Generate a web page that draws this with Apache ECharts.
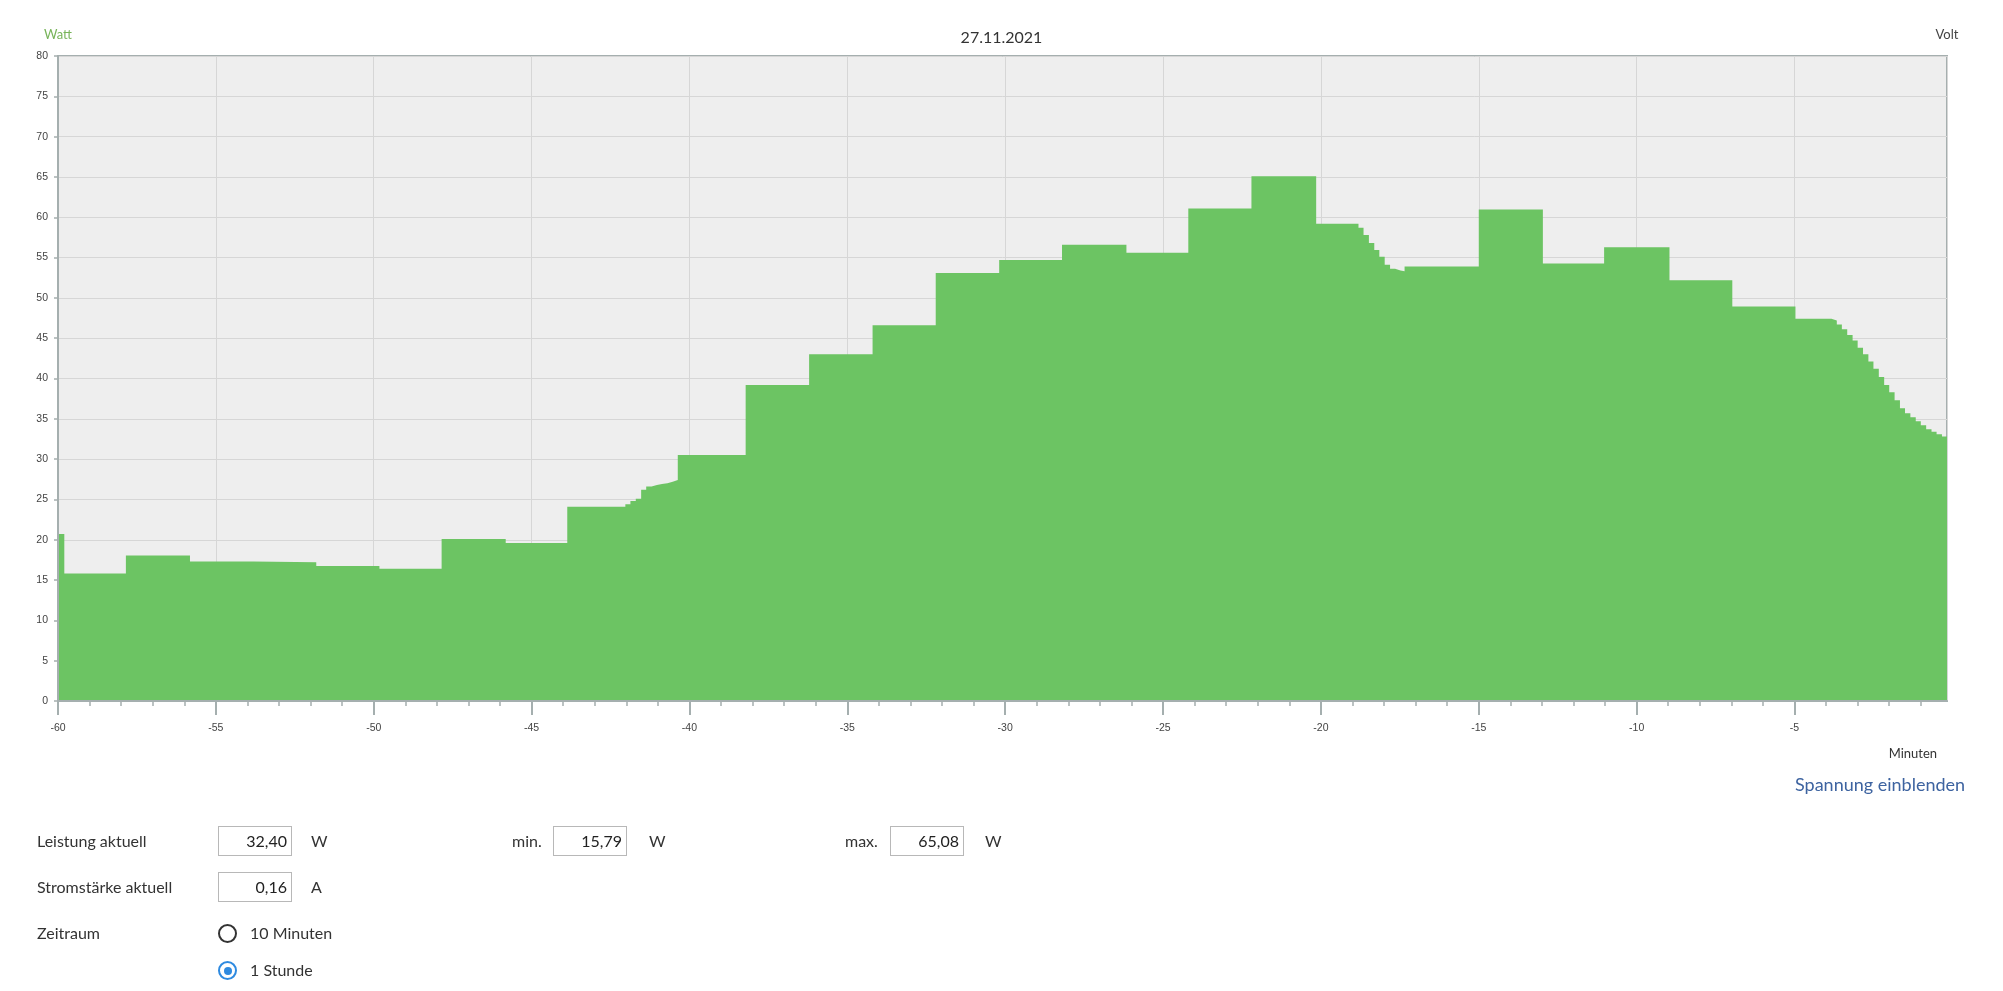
<!DOCTYPE html>
<html>
<head>
<meta charset="utf-8">
<script src="https://cdn.jsdelivr.net/npm/echarts@6/dist/echarts.min.js"></script>
<style>
html,body{margin:0;padding:0;background:#fff;overflow:hidden;width:2003px;height:991px;}
#chart{position:absolute;left:0;top:0;width:2003px;height:991px;}
.t{position:absolute;font-family:Lato,'Open Sans',sans-serif;font-size:16px;color:#333;line-height:20px;height:20px;white-space:nowrap;}
.box{position:absolute;border:1px solid #b8b8b8;background:#fff;box-sizing:border-box;width:74px;height:30px;font-family:Lato,'Open Sans',sans-serif;font-size:16px;color:#222;text-align:right;padding-right:4px;line-height:28px;}
.radio{position:absolute;width:19px;height:19px;border-radius:50%;box-sizing:border-box;}
.link{position:absolute;font-family:Lato,'Open Sans',sans-serif;font-size:18px;color:#3d63a0;white-space:nowrap;line-height:22px;}
</style>
</head>
<body>
<div id="chart"></div>

<div class="link" style="left:1795px;top:773px;">Spannung einblenden</div>

<div class="t" style="left:37px;top:831px;">Leistung aktuell</div>
<div class="box" style="left:218px;top:826px;">32,40</div>
<div class="t" style="left:311px;top:831px;">W</div>
<div class="t" style="left:512px;top:831px;">min.</div>
<div class="box" style="left:553px;top:826px;">15,79</div>
<div class="t" style="left:649px;top:831px;">W</div>
<div class="t" style="left:845px;top:831px;">max.</div>
<div class="box" style="left:890px;top:826px;">65,08</div>
<div class="t" style="left:985px;top:831px;">W</div>

<div class="t" style="left:37px;top:877px;">Stromstärke aktuell</div>
<div class="box" style="left:218px;top:872px;">0,16</div>
<div class="t" style="left:311px;top:877px;">A</div>

<div class="t" style="left:37px;top:923px;">Zeitraum</div>
<div class="radio" style="left:218px;top:924px;border:2px solid #333;"></div>
<div class="t" style="left:250px;top:923px;">10 Minuten</div>
<div class="radio" style="left:218px;top:961px;border:2px solid #2e8ae0;"><div style="position:absolute;left:3.5px;top:3.5px;width:8px;height:8px;border-radius:50%;background:#2e8ae0;"></div></div>
<div class="t" style="left:250px;top:960px;">1 Stunde</div>

<script>
// Segment start times (minutes) and power values (Watt); each value holds until the next time.
const minutes = [
  -60.00, -59.80, -57.85, -55.82, -53.82, -51.82, -49.82, -47.85, -45.82, -43.87,
  -42.03, -41.87, -41.70, -41.53, -41.37, -41.20, -41.03, -40.87, -40.70, -40.53,
  -40.37, -38.22, -36.21, -34.20, -32.20, -30.19, -28.20, -26.16, -24.20, -22.20,
  -20.15, -18.81, -18.65, -18.48, -18.31, -18.15, -17.98, -17.81, -17.65, -17.48,
  -17.35, -15.00, -12.97, -11.03, -8.96, -6.97, -4.97,
  -3.83, -3.66, -3.50, -3.33, -3.16, -3.00, -2.83, -2.66, -2.50, -2.33, -2.16,
  -2.00, -1.83, -1.66, -1.50, -1.33, -1.16, -1.00, -0.83, -0.66, -0.50, -0.33,
  -0.17
];
const watts = [
  20.7, 15.8, 18.05, 17.3, 17.22, 16.75, 16.4, 20.1, 19.6, 24.1,
  24.4, 24.8, 25.1, 26.2, 26.6, 26.8, 26.9, 27.0, 27.2, 27.4,
  30.5, 39.2, 43.0, 46.6, 53.1, 54.7, 56.6, 55.6, 61.1, 65.08,
  59.2, 58.7, 57.8, 56.8, 55.95, 55.1, 54.1, 53.6, 53.4, 53.3,
  53.9, 60.95, 54.26, 56.28, 52.19, 48.93, 47.4,
  47.2, 46.7, 46.1, 45.4, 44.7, 43.8, 43.0, 42.1, 41.2, 40.2, 39.2,
  38.3, 37.3, 36.3, 35.7, 35.2, 34.7, 34.2, 33.7, 33.4, 33.1, 32.8,
  32.4
];
const xTickValues = [-60, -55, -50, -45, -40, -35, -30, -25, -20, -15, -10, -5];
const dateLabel = '27.11.2021';

const seriesData = minutes.map((m, i) => [m, watts[i]]);
const axisGray = '#a5afaf';
const gridGray = '#d6d6d6';
const xMin = -60, xMax = minutes[minutes.length - 1];

const chart = echarts.init(document.getElementById('chart'), null, {renderer: 'canvas'});
chart.setOption({
  animation: false,
  title: {
    text: dateLabel, left: 'center', top: 25,
    textStyle: {fontFamily: 'Lato', fontSize: 16, fontWeight: 'normal', color: '#333'}
  },
  grid: {
    left: 58, right: 56, top: 56, bottom: 290,
    show: true, backgroundColor: '#eeeeee', borderColor: axisGray, borderWidth: 2
  },
  xAxis: [
    {
      type: 'value', position: 'top', min: xMin, max: xMax, interval: 5,
      axisLine: {show: false}, axisTick: {show: false}, axisLabel: {show: false},
      splitLine: {show: true, lineStyle: {color: gridGray, width: 1}}
    },
    {
      type: 'value', position: 'bottom', min: xMin, max: xMax, interval: 5, z: 10,
      axisLine: {show: true, onZero: false, lineStyle: {color: axisGray, width: 2}},
      axisTick: {show: true, length: 14, customValues: xTickValues, lineStyle: {color: axisGray, width: 2}},
      minorTick: {show: true, splitNumber: 5, length: 5, lineStyle: {color: axisGray, width: 1.5}},
      axisLabel: {
        customValues: xTickValues, margin: 22,
        fontFamily: 'Liberation Sans', fontSize: 10.5, color: '#444'
      },
      splitLine: {show: false}
    }
  ],
  yAxis: [
    {
      type: 'value', position: 'right', min: 0, max: 80, interval: 5,
      name: 'Volt', nameLocation: 'end', nameGap: 15,
      nameTextStyle: {fontFamily: 'Lato', fontSize: 13, color: '#444'},
      axisLine: {show: false}, axisTick: {show: false}, axisLabel: {show: false},
      splitLine: {show: true, lineStyle: {color: gridGray, width: 1}}
    },
    {
      type: 'value', position: 'left', min: 0, max: 80, interval: 5, z: 10,
      name: 'Watt', nameLocation: 'end', nameGap: 15,
      nameTextStyle: {fontFamily: 'Lato', fontSize: 13, color: '#78b45a'},
      axisLine: {show: true, onZero: false, lineStyle: {color: axisGray, width: 2}},
      axisTick: {show: true, length: 4, lineStyle: {color: axisGray, width: 1.5}},
      axisLabel: {margin: 10, fontFamily: 'Liberation Sans', fontSize: 10.5, color: '#444'},
      splitLine: {show: false}
    }
  ],
  series: [{
    type: 'line', xAxisIndex: 0, yAxisIndex: 0, step: 'end',
    data: seriesData, showSymbol: false, symbol: 'none',
    lineStyle: {width: 0, color: '#6cc463'},
    itemStyle: {color: '#6cc463'},
    areaStyle: {color: '#6cc463', opacity: 1}
  }],
  graphic: [{
    type: 'text', right: 66, top: 747,
    style: {text: 'Minuten', font: '13px Lato', fill: '#333'}
  }]
});
</script>
</body>
</html>
